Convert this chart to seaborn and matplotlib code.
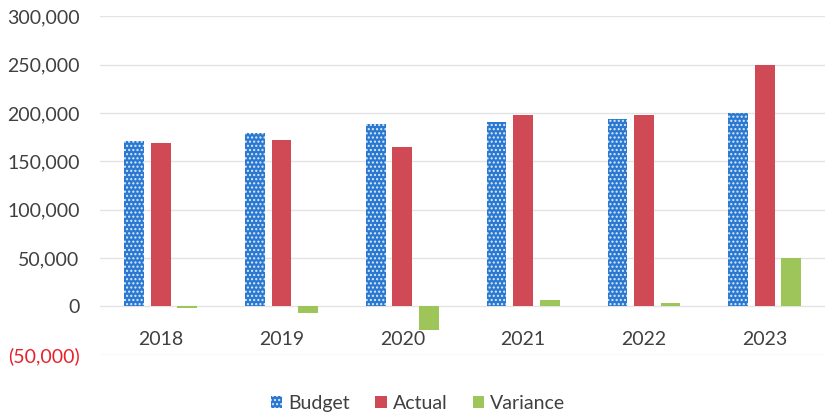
import matplotlib
matplotlib.use("Agg")
import matplotlib.pyplot as plt
import matplotlib.ticker as mticker
from matplotlib.patches import Patch
import seaborn as sns
import pandas as pd

years = ["2018", "2019", "2020", "2021", "2022", "2023"]
budget = [171000, 179000, 189000, 191000, 194000, 200000]
actual = [169000, 172000, 165000, 198000, 198000, 250000]
variance = [-2000, -7000, -24000, 7000, 4000, 50000]
series = ["Budget", "Actual", "Variance"]
colors = {"Budget": "#2A78D0", "Actual": "#D04A55", "Variance": "#9DC55A"}

df = pd.DataFrame({
    "Year": years * 3,
    "Series": ["Budget"] * 6 + ["Actual"] * 6 + ["Variance"] * 6,
    "Value": budget + actual + variance,
})

sns.set_theme(style="white")
plt.rcParams["font.family"] = ["Lato", "DejaVu Sans"]
plt.rcParams["hatch.linewidth"] = 1.0

fig = plt.figure(figsize=(8.36, 4.15), dpi=100)
ax = fig.add_axes([0.12, 0.145, 0.867, 0.816])

sns.barplot(data=df, x="Year", y="Value", hue="Series", hue_order=series,
            palette=colors, width=0.66, gap=0.26, ax=ax, legend=False,
            saturation=1)

# Budget pattern (blue with white dots)
nb = len(years)
for p in ax.patches[:nb]:
    p.set_hatch("....")
    p.set_edgecolor("#DDEBFA")
    p.set_linewidth(0)
for p in ax.patches[nb:]:
    p.set_edgecolor("none")

ax.set_ylim(-50000, 300000)
ax.set_xlim(-0.5, 5.5)
ax.set_yticks(range(-50000, 300001, 50000))

def fmt(v, pos):
    if v < 0:
        return "({:,.0f})".format(-v)
    return "{:,.0f}".format(v)

ax.yaxis.set_major_formatter(mticker.FuncFormatter(fmt))
ax.grid(axis="y", color="#E3E3E3", linewidth=1)
ax.set_axisbelow(True)
for s in ax.spines.values():
    s.set_visible(False)
ax.spines["bottom"].set_position(("data", 0))
ax.set_xlabel("")
ax.set_ylabel("")
ax.tick_params(axis="x", length=0, pad=18, labelsize=14, labelcolor="#404040")
ax.tick_params(axis="y", length=0, pad=15, labelsize=14, labelcolor="#404040")
for lbl in ax.get_yticklabels():
    if lbl.get_text().startswith("("):
        lbl.set_color("#E8202A")

handles = [
    Patch(facecolor=colors["Budget"], edgecolor="#DDEBFA", hatch="....", linewidth=0, label="Budget"),
    Patch(facecolor=colors["Actual"], edgecolor="none", label="Actual"),
    Patch(facecolor=colors["Variance"], edgecolor="none", label="Variance"),
]
fig.legend(handles=handles, loc="lower center", bbox_to_anchor=(0.5, -0.035), ncol=3,
           frameon=False, fontsize=14, handlelength=0.6, handleheight=0.6,
           handletextpad=0.3, columnspacing=1.3, labelcolor="#404040")

fig.savefig("out.png", dpi=100)
